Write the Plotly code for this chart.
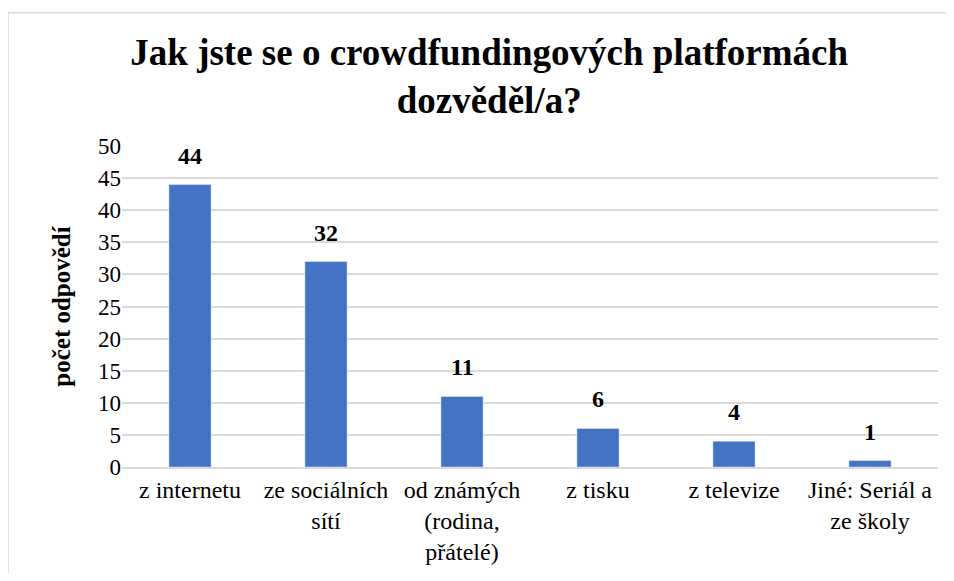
import plotly.graph_objects as go

categories = [
    "z internetu",
    "ze sociálních<br>sítí",
    "od známých<br>(rodina,<br>přátelé)",
    "z tisku",
    "z televize",
    "Jiné: Seriál a<br>ze školy",
]
counts = [44, 32, 11, 6, 4, 1]
y_ticks = [0, 5, 10, 15, 20, 25, 30, 35, 40, 45, 50]

FONT = "Liberation Serif, Times New Roman, serif"

fig = go.Figure(go.Bar(
    x=categories,
    y=counts,
    marker_color="#4472C4",
    hoverinfo="x+y",
))

# value labels above the bars, a bit detached like in the source chart
for cat, val in zip(categories, counts):
    fig.add_annotation(
        x=cat, y=val, text=f"<b>{val}</b>",
        showarrow=False, yanchor="bottom", yshift=14,
        font=dict(family=FONT, size=24, color="black"),
    )

# chart border (only left and top edges are visible)
fig.add_shape(
    type="rect", xref="paper", yref="paper",
    x0=-0.1397, x1=1.3, y0=-0.6, y1=1.415,
    line=dict(color="#d9d9d9", width=1.5),
)

# page body has an 8px margin, so the figure is sized to fit inside it
fig.update_layout(
    width=938,
    height=565,
    margin=dict(l=114, r=8, t=138, b=104),
    paper_bgcolor="white",
    plot_bgcolor="white",
    bargap=0.69,
    showlegend=False,
    font=dict(family=FONT, color="black"),
    title=dict(
        text="<b>Jak jste se o crowdfundingových platformách<br>dozvěděl/a?</b>",
        x=0.513, xanchor="center",
        y=0.9, yanchor="top",
        font=dict(family=FONT, size=37, color="black"),
    ),
    xaxis=dict(
        tickfont=dict(family=FONT, size=24, color="black"),
        showline=True, linecolor="#d9d9d9", linewidth=1.5,
        ticks="",
    ),
    yaxis=dict(
        range=[0, 50],
        tickvals=y_ticks,
        tickfont=dict(family=FONT, size=23, color="black"),
        showgrid=True, gridcolor="#d9d9d9", gridwidth=1.5,
        zeroline=False,
        ticks="", ticklen=0,
        title=dict(text="<b>počet odpovědí</b>", font=dict(family=FONT, size=25, color="black"), standoff=20),
    ),
)

fig.write_html("out.html")
